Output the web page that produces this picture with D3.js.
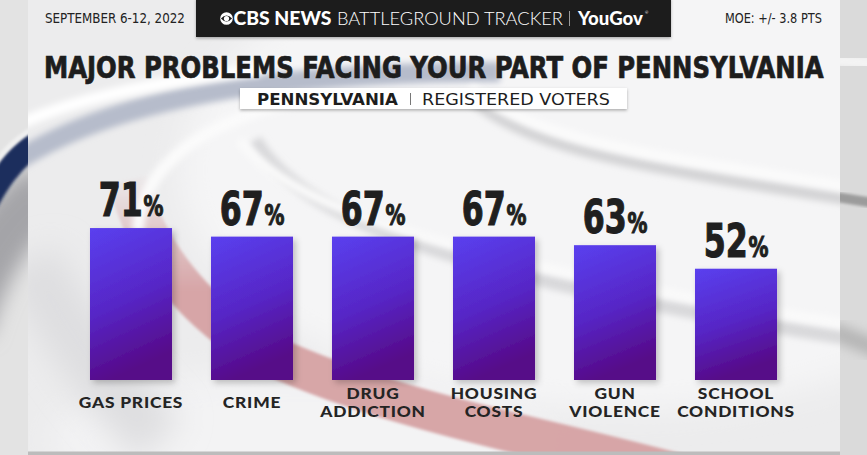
<!DOCTYPE html>
<html>
<head>
<meta charset="utf-8">
<script src="https://cdn.jsdelivr.net/npm/d3@7/dist/d3.min.js"></script>
<style>
  html, body { margin: 0; padding: 0; background: #cfcfcf; }
  svg { display: block; }
</style>
</head>
<body>
<svg id="chart" width="867" height="455"></svg>
<script>
// ---- data ----
const categories = [["GAS PRICES"], ["CRIME"], ["DRUG", "ADDICTION"], ["HOUSING", "COSTS"], ["GUN", "VIOLENCE"], ["SCHOOL", "CONDITIONS"]];
const values = [71, 67, 67, 67, 63, 52];
const titleText = "MAJOR PROBLEMS FACING YOUR PART OF PENNSYLVANIA";
const subtitleBold = "PENNSYLVANIA";
const subtitleRegular = "REGISTERED VOTERS";
const dateText = "SEPTEMBER 6-12, 2022";
const moeText = "MOE: +/- 3.8 PTS";

const W = 867, H = 455;
const svg = d3.select("#chart");
const defs = svg.append("defs");

const condensed = "'Liberation Sans Narrow', 'DejaVu Sans Condensed', 'Arial Narrow', sans-serif";
const geo = "Lato, 'Open Sans', sans-serif";

// filters
const blur = (id, s) => defs.append("filter").attr("id", id)
  .attr("x", "-50%").attr("y", "-50%").attr("width", "200%").attr("height", "200%")
  .append("feGaussianBlur").attr("stdDeviation", s);
blur("b3", 3); blur("b6", 6); blur("b10", 10); blur("b2", 1.5); blur("b16", 16);

const sh = defs.append("filter").attr("id", "shadow")
  .attr("x", "-20%").attr("y", "-20%").attr("width", "150%").attr("height", "150%");
sh.append("feDropShadow").attr("dx", 3).attr("dy", 3).attr("stdDeviation", 3)
  .attr("flood-color", "#000").attr("flood-opacity", 0.22);
const sh2 = defs.append("filter").attr("id", "shadow2")
  .attr("x", "-20%").attr("y", "-50%").attr("width", "140%").attr("height", "200%");
sh2.append("feDropShadow").attr("dx", 0).attr("dy", 1.5).attr("stdDeviation", 1.5)
  .attr("flood-color", "#000").attr("flood-opacity", 0.3);

const barGrad = defs.append("linearGradient").attr("id", "barGrad")
  .attr("x1", "0").attr("y1", "0").attr("x2", "0.25").attr("y2", "1");
barGrad.append("stop").attr("offset", "0%").attr("stop-color", "#5a40ef");
barGrad.append("stop").attr("offset", "55%").attr("stop-color", "#5726c6");
barGrad.append("stop").attr("offset", "100%").attr("stop-color", "#560a88");

const outGrad = defs.append("linearGradient").attr("id", "outGrad")
  .attr("x1", "0").attr("y1", "0").attr("x2", "0").attr("y2", "1");
outGrad.append("stop").attr("offset", "0%").attr("stop-color", "#e2e2e2");
outGrad.append("stop").attr("offset", "100%").attr("stop-color", "#d2d2d4");

const redGrad = defs.append("linearGradient").attr("id", "redGrad")
  .attr("gradientUnits", "userSpaceOnUse")
  .attr("x1", 0).attr("y1", 170).attr("x2", 0).attr("y2", 290);
redGrad.append("stop").attr("offset", "0%").attr("stop-color", "#d8a5a7").attr("stop-opacity", 0);
redGrad.append("stop").attr("offset", "100%").attr("stop-color", "#d5a1a3").attr("stop-opacity", 0.95);

defs.append("clipPath").attr("id", "panelClip")
  .append("rect").attr("x", 28).attr("y", 0).attr("width", 812).attr("height", 452);
defs.append("clipPath").attr("id", "leftClip")
  .append("rect").attr("x", 0).attr("y", 0).attr("width", 28).attr("height", 455);
defs.append("clipPath").attr("id", "rightClip")
  .append("rect").attr("x", 840).attr("y", 0).attr("width", 27).attr("height", 455);

// ---- outer background ----
svg.append("rect").attr("width", W).attr("height", H).attr("fill", "url(#outGrad)");
const outL = svg.append("g").attr("clip-path", "url(#leftClip)");
outL.append("rect").attr("x", 0).attr("y", 0).attr("width", 28).attr("height", 455).attr("fill", "#e3e3e3");
outL.append("path").attr("d", "M -40 330 C -20 260, 10 215, 50 190")
  .attr("fill", "none").attr("stroke", "#a4a4a8").attr("stroke-width", 60).attr("filter", "url(#b10)");
outL.append("path").attr("d", "M -20 215 C -5 185, 10 160, 40 140")
  .attr("fill", "none").attr("stroke", "#1e2f5d").attr("stroke-width", 24).attr("filter", "url(#b2)");
outL.append("path").attr("d", "M -20 190 C -5 160, 10 140, 40 125")
  .attr("fill", "none").attr("stroke", "#f2f2f2").attr("stroke-width", 5).attr("filter", "url(#b2)");
const outR = svg.append("g").attr("clip-path", "url(#rightClip)");
outR.append("rect").attr("x", 840).attr("y", 0).attr("width", 27).attr("height", 455).attr("fill", "#dadada");
outR.append("path").attr("d", "M 830 196 L 880 204")
  .attr("fill", "none").attr("stroke", "#9b9b9b").attr("stroke-width", 10).attr("filter", "url(#b2)");
outR.append("path").attr("d", "M 830 60 L 880 64")
  .attr("fill", "none").attr("stroke", "#f4f4f4").attr("stroke-width", 14).attr("filter", "url(#b3)");
outR.append("path").attr("d", "M 830 330 L 880 350")
  .attr("fill", "none").attr("stroke", "#b5b5b5").attr("stroke-width", 18).attr("filter", "url(#b6)");

// ---- panel ----
svg.append("rect").attr("x", 28).attr("y", 0).attr("width", 812).attr("height", 452).attr("fill", "#ececed");
const deco = svg.append("g").attr("clip-path", "url(#panelClip)");
// soft light area
deco.append("ellipse").attr("cx", 620).attr("cy", 170).attr("rx", 440).attr("ry", 240)
  .attr("fill", "#f5f5f6").attr("filter", "url(#b16)");
deco.append("ellipse").attr("cx", 300).attr("cy", 440).attr("rx", 250).attr("ry", 70)
  .attr("fill", "#f3f3f4").attr("filter", "url(#b16)");
// left gray shading
deco.append("path").attr("d", "M 30 260 C 60 320, 100 380, 160 440")
  .attr("fill", "none").attr("stroke", "#dedee0").attr("stroke-width", 60).attr("filter", "url(#b16)");
// blue-gray band top-left
deco.append("path").attr("d", "M 10 165 C 70 125, 150 100, 250 86 C 330 76, 420 72, 500 72")
  .attr("fill", "none").attr("stroke", "#b6bccb").attr("stroke-width", 20).attr("filter", "url(#b3)");
deco.append("path").attr("d", "M 10 128 C 70 100, 150 82, 260 70")
  .attr("fill", "none").attr("stroke", "#ffffff").attr("stroke-width", 12).attr("filter", "url(#b3)");
// red swoosh
deco.append("path").attr("d", "M 128 180 C 145 250, 195 315, 270 355 C 350 392, 450 418, 560 444 C 610 456, 660 468, 720 485")
  .attr("fill", "none").attr("stroke", "url(#redGrad)").attr("stroke-width", 40).attr("filter", "url(#b2)");
// inner white circle edge (left)
deco.append("path").attr("d", "M 138 240 C 135 175, 190 125, 300 100")
  .attr("fill", "none").attr("stroke", "#fbfbfb").attr("stroke-width", 12).attr("filter", "url(#b3)");
// inner ring lower edge (gray shadow)
deco.append("path").attr("d", "M 255 140 C 290 200, 380 240, 550 282 C 680 312, 780 328, 860 340")
  .attr("fill", "none").attr("stroke", "#d9d9db").attr("stroke-width", 14).attr("filter", "url(#b3)");
deco.append("path").attr("d", "M 240 140 C 275 190, 370 228, 545 268 C 680 298, 780 314, 860 326")
  .attr("fill", "none").attr("stroke", "#fafafa").attr("stroke-width", 10).attr("filter", "url(#b3)");
// right gray arc
deco.append("path").attr("d", "M 470 98 C 520 140, 600 158, 700 175 C 760 186, 810 193, 850 200")
  .attr("fill", "none").attr("stroke", "#d4d4d6").attr("stroke-width", 12).attr("filter", "url(#b3)");
deco.append("path").attr("d", "M 470 88 C 520 128, 600 146, 700 163 C 760 173, 810 181, 850 187")
  .attr("fill", "none").attr("stroke", "#fbfbfb").attr("stroke-width", 10).attr("filter", "url(#b3)");
// bottom edge line
svg.append("rect").attr("x", 28).attr("y", 451.5).attr("width", 812).attr("height", 4).attr("fill", "#bcbcbc");

// ---- header ----
svg.append("rect").attr("x", 196).attr("y", -2).attr("width", 475).attr("height", 39)
  .attr("fill", "#1f1f1f").attr("filter", "url(#shadow2)");
// CBS eye logo
const eye = svg.append("g").attr("transform", "translate(226.5,18.5)");
eye.append("circle").attr("r", 6.3).attr("fill", "#fff");
eye.append("path").attr("d", "M -5.6 0 Q 0 -6.2 5.6 0 Q 0 6.2 -5.6 0 Z").attr("fill", "#1f1f1f");
eye.append("circle").attr("r", 2.6).attr("fill", "#fff");

// fit a text element horizontally to a target width using a transform
function fitText(sel, x0, yb, target) {
  const w = sel.node().getComputedTextLength();
  const s = w > 0 ? target / w : 1;
  sel.attr("x", 0).attr("y", 0).attr("transform", `translate(${x0},${yb}) scale(${s},1)`);
  return sel;
}
const hdr = (txt, x0, len, weight, family, size) => fitText(svg.append("text")
  .attr("fill", "#fff")
  .attr("font-family", family).attr("font-weight", weight).attr("font-size", size)
  .text(txt), x0, 25, len);
hdr("CBS NEWS", 233.5, 98, 900, geo, 18);
hdr("BATTLEGROUND TRACKER", 337, 226, 300, geo, 18);
svg.append("line").attr("x1", 569.5).attr("x2", 569.5).attr("y1", 11).attr("y2", 26)
  .attr("stroke", "#9a9a9a").attr("stroke-width", 1);
hdr("YouGov", 578, 65, 900, geo, 18);
svg.append("text").attr("x", 645).attr("y", 14).attr("fill", "#fff")
  .attr("font-size", 4).attr("font-family", geo).text("®");

fitText(svg.append("text").attr("fill", "#222")
  .attr("font-family", condensed).attr("font-weight", 400).attr("font-size", 14)
  .text(dateText), 45, 23, 140);
fitText(svg.append("text").attr("fill", "#222")
  .attr("font-family", condensed).attr("font-weight", 400).attr("font-size", 14)
  .text(moeText), 725, 23, 97);

// ---- title ----
fitText(svg.append("text").attr("fill", "#1d1d1d")
  .attr("font-family", condensed).attr("font-weight", 700).attr("font-size", 29.5)
  .attr("stroke", "#1d1d1d").attr("stroke-width", 0.7)
  .text(titleText), 44, 78, 780);

// subtitle box
svg.append("rect").attr("x", 240).attr("y", 88).attr("width", 387).attr("height", 21)
  .attr("fill", "#fff").attr("filter", "url(#shadow2)");
fitText(svg.append("text").attr("fill", "#1d1d1d")
  .attr("font-family", condensed).attr("font-weight", 700).attr("font-size", 15.5)
  .text(subtitleBold), 257, 104.5, 141);
svg.append("line").attr("x1", 410.5).attr("x2", 410.5).attr("y1", 93).attr("y2", 105)
  .attr("stroke", "#777").attr("stroke-width", 1);
fitText(svg.append("text").attr("fill", "#1d1d1d")
  .attr("font-family", condensed).attr("font-weight", 400).attr("font-size", 15.5)
  .text(subtitleRegular), 422, 104.5, 188);

// ---- scales ----
const x = d3.scaleBand().domain(d3.range(values.length))
  .range([70.5, 796.5]).paddingInner(0.322).paddingOuter(0.161);
const y = d3.scaleLinear().domain([0, 100]).range([380, 166]);

// bars
svg.append("g").selectAll("rect").data(values).join("rect")
  .attr("x", (d, i) => x(i)).attr("y", d => y(d))
  .attr("width", x.bandwidth()).attr("height", d => y(0) - y(d))
  .attr("fill", "url(#barGrad)").attr("filter", "url(#shadow)");

// value labels
const vl = svg.append("g").selectAll("text").data(values).join("text")
  .attr("text-anchor", "middle").attr("fill", "#1f1f1f")
  .attr("font-family", condensed).attr("font-weight", 700)
  .attr("stroke", "#1f1f1f").attr("stroke-width", 1.1);
vl.append("tspan").attr("font-size", 46).text(d => d);
vl.append("tspan").attr("font-size", 29).attr("dx", 1).text("%");
let wRef = 0;
vl.each(function (d, i) { if (i === 1) wRef = this.getComputedTextLength(); });
const sx = wRef > 0 ? Math.min(1, 64 / wRef) : 1;
vl.attr("transform", (d, i) => {
  const cx = x(i) + x.bandwidth() / 2, by = y(d) - 12;
  return `translate(${cx},${by}) scale(${sx},1)`;
});

// category labels
const cl = svg.append("g").selectAll("text").data(categories).join("text")
  .attr("text-anchor", "middle").attr("fill", "#242424")
  .attr("font-family", geo).attr("font-weight", 900).attr("font-size", 15.5)
  .attr("letter-spacing", 0.7)
  .attr("transform", (d, i) => `translate(${x(i) + x.bandwidth() / 2},${d.length === 1 ? 407.5 : 398.5}) scale(1.12,1)`);
cl.selectAll("tspan").data(d => d).join("tspan")
  .attr("x", 0).attr("dy", (d, j) => j === 0 ? 0 : 18.7).text(d => d);
</script>
</body>
</html>
